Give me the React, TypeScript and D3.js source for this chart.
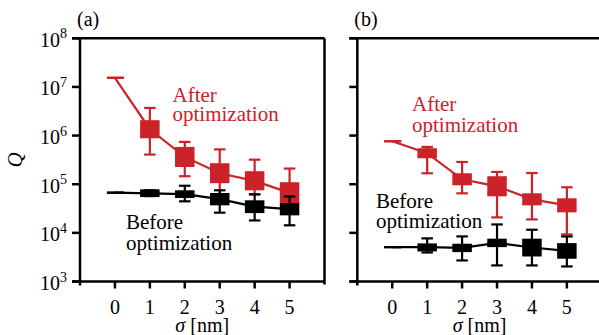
import React from "react";
import * as d3 from "d3";

// ---------- data ----------
const sigma = [0, 1, 2, 3, 4, 5];
const xTicks = [0, 1, 2, 3, 4, 5];
const yTickExps = [3, 4, 5, 6, 7, 8];

// Panel (a)
const afterA = [1.54e7, 1.35e6, 3.64e5, 1.68e5, 1.17e5, 6.65e4];
const afterAErrHi = [1.54e7, 3.7e6, 7.4e5, 5.2e5, 3.2e5, 2.1e5];
const afterAErrLo = [1.54e7, 4.07e5, 1.46e5, 5.4e4, 6.2e4, 4.05e4];
const afterABoxHi = [null, 2.07e6, 5.85e5, 2.7e5, 1.85e5, 1.1e5];
const afterABoxLo = [null, 8.8e5, 2.26e5, 1.05e5, 7.5e4, 4.05e4];

const beforeA = [6.7e4, 6.5e4, 6.25e4, 4.93e4, 3.46e4, 3.08e4];
const beforeAErrHi = [6.7e4, 7.5e4, 9.3e4, 7.5e4, 6.2e4, 5.6e4];
const beforeAErrLo = [6.7e4, 5.7e4, 4.45e4, 2.6e4, 1.8e4, 1.43e4];
const beforeABoxHi = [null, 7.85e4, 7.5e4, 6.6e4, 4.67e4, 4.1e4];
const beforeABoxLo = [null, 5.45e4, 5.2e4, 3.68e4, 2.55e4, 2.29e4];

// Panel (b)
const afterB = [7.65e5, 4.34e5, 1.26e5, 9.06e4, 4.89e4, 3.68e4];
const afterBErrHi = [7.65e5, 5.85e5, 2.87e5, 1.79e5, 1.7e5, 8.65e4];
const afterBErrLo = [7.65e5, 1.68e5, 6.5e4, 2.08e4, 1.89e4, 9.3e3];
const afterBBoxHi = [null, 5.5e5, 1.68e5, 1.46e5, 6.5e4, 5.13e4];
const afterBBoxLo = [null, 3.42e5, 9.5e4, 5.64e4, 3.68e4, 2.64e4];

const beforeB = [5.09e3, 5.09e3, 4.9e3, 6.2e3, 5.0e3, 4.25e3];
const beforeBErrHi = [5.09e3, 7.7e3, 8.45e3, 1.49e4, 1.16e4, 8.45e3];
const beforeBErrLo = [5.09e3, 3.95e3, 2.71e3, 2.14e3, 2.14e3, 2.04e3];
const beforeBBoxHi = [null, 6.07e3, 5.98e3, 7.59e3, 7.59e3, 6.15e3];
const beforeBBoxLo = [null, 4.15e3, 4.02e3, 5.09e3, 3.27e3, 2.94e3];

const annotAfter = ["After", "optimization"];
const annotBefore = ["Before", "optimization"];

// ---------- styles ----------
const RED = "#cc2229";
const BLACK = "#000";
const TXT = { fontFamily: "Liberation Serif" };
const W = 599;
const H = 335;
const yTop = 38.3;
const yBot = 281.5;

const y = d3.scaleLog().domain([1e3, 1e8]).range([yBot, yTop]);

type Series = {
  v: number[];
  hi: number[];
  lo: number[];
  bHi: (number | null)[];
  bLo: (number | null)[];
  color: string;
};

function SeriesMarks({ s, x }: { s: Series; x: d3.ScaleLinear<number, number> }) {
  const line = d3
    .line<number>()
    .x((_, i) => x(sigma[i]))
    .y((d) => y(d));
  const boxW = 19.5;
  return (
    <g>
      <path d={line(s.v) || ""} fill="none" stroke={s.color} strokeWidth={2.2} />
      {sigma.map((sg, i) => {
        const cx = x(sg);
        const capW = sg === 0 ? 17 : 11.5;
        const capOff = sg === 0 ? 0.5 : 0;
        return (
          <g key={i}>
            <line x1={cx} x2={cx} y1={y(s.hi[i])} y2={y(s.lo[i])} stroke={s.color} strokeWidth={2.2} />
            <line x1={cx - capW / 2 + capOff} x2={cx + capW / 2 + capOff} y1={y(s.hi[i])} y2={y(s.hi[i])} stroke={s.color} strokeWidth={2.2} />
            <line x1={cx - capW / 2 + capOff} x2={cx + capW / 2 + capOff} y1={y(s.lo[i])} y2={y(s.lo[i])} stroke={s.color} strokeWidth={2.2} />
            {s.bHi[i] != null && s.bLo[i] != null && (
              <rect
                x={cx - boxW / 2}
                width={boxW}
                y={y(s.bHi[i] as number)}
                height={y(s.bLo[i] as number) - y(s.bHi[i] as number)}
                fill={s.color}
              />
            )}
          </g>
        );
      })}
    </g>
  );
}

function Panel({
  x0,
  x1,
  label,
  showYLabels,
  after,
  before,
  afterPos,
  beforePos,
}: {
  x0: number;
  x1: number;
  label: string;
  showYLabels: boolean;
  after: Series;
  before: Series;
  afterPos: [number, number, number];
  beforePos: [number, number, number];
}) {
  const x = d3.scaleLinear().domain([-1, 6]).range([x0, x1]);
  const sw = 2.5;
  return (
    <g>
      {/* frame */}
      <line x1={x0} x2={x0} y1={yTop} y2={yBot + 4} stroke="#000" strokeWidth={sw} />
      <line x1={x1} x2={x1} y1={yTop} y2={yBot + 3} stroke="#000" strokeWidth={sw} />
      <line x1={x0 - 8} x2={x1} y1={yBot} y2={yBot} stroke="#000" strokeWidth={sw} />
      <line x1={x0 - 8} x2={x1} y1={yTop} y2={yTop} stroke="#000" strokeWidth={sw} />
      {yTickExps.map((e) => (
        <line key={e} x1={x0 - 8} x2={x0} y1={y(Math.pow(10, e))} y2={y(Math.pow(10, e))} stroke="#000" strokeWidth={sw} />
      ))}
      {showYLabels &&
        yTickExps.map((e) => (
          <text key={e} x={x0 - 13} y={y(Math.pow(10, e)) + 8.4} fontSize={20} textAnchor="end" style={TXT}>
            10
            <tspan dy={-8.4} fontSize={14}>
              {e}
            </tspan>
          </text>
        ))}
      {xTicks.map((t) => (
        <g key={t}>
          <line x1={x(t)} x2={x(t)} y1={yBot} y2={yBot + 7} stroke="#000" strokeWidth={sw} />
          <text x={x(t)} y={313.5} fontSize={20} textAnchor="middle" style={TXT}>
            {t}
          </text>
        </g>
      ))}
      <text x={(x(0) + x(5)) / 2} y={332} fontSize={20} textAnchor="middle" style={TXT}>
        <tspan fontStyle="italic">σ</tspan> [nm]
      </text>
      <text x={x0 - 3} y={26.4} fontSize={20} style={TXT}>
        {label}
      </text>

      <SeriesMarks s={after} x={x} />
      <SeriesMarks s={before} x={x} />

      <text fill={RED} fontSize={21} style={TXT}>
        <tspan x={afterPos[0]} y={afterPos[1]}>{annotAfter[0]}</tspan>
        <tspan x={afterPos[0]} y={afterPos[2]}>{annotAfter[1]}</tspan>
      </text>
      <text fill={BLACK} fontSize={21} style={TXT}>
        <tspan x={beforePos[0]} y={beforePos[1]}>{annotBefore[0]}</tspan>
        <tspan x={beforePos[0]} y={beforePos[2]}>{annotBefore[1]}</tspan>
      </text>
    </g>
  );
}

export default function App() {
  const aAfter: Series = { v: afterA, hi: afterAErrHi, lo: afterAErrLo, bHi: afterABoxHi, bLo: afterABoxLo, color: RED };
  const aBefore: Series = { v: beforeA, hi: beforeAErrHi, lo: beforeAErrLo, bHi: beforeABoxHi, bLo: beforeABoxLo, color: BLACK };
  const bAfter: Series = { v: afterB, hi: afterBErrHi, lo: afterBErrLo, bHi: afterBBoxHi, bLo: afterBBoxLo, color: RED };
  const bBefore: Series = { v: beforeB, hi: beforeBErrHi, lo: beforeBErrLo, bHi: beforeBBoxHi, bLo: beforeBBoxLo, color: BLACK };
  return (
    <svg width={W} height={H} style={{ position: "absolute", left: 0, top: 0, background: "#fff" }}>
      <rect width={W} height={H} fill="#fff" />
      <text
        transform={`translate(22,${(yTop + yBot) / 2}) rotate(-90)`}
        style={TXT}
        fontStyle="italic"
        fontSize={21}
        textAnchor="middle"
      >
        Q
      </text>
      <Panel
        x0={80}
        x1={324.5}
        label="(a)"
        showYLabels={true}
        after={aAfter}
        before={aBefore}
        afterPos={[172.5, 101.7, 120.5]}
        beforePos={[126, 228.8, 249.5]}
      />
      <Panel
        x0={357.3}
        x1={601.8}
        label="(b)"
        showYLabels={false}
        after={bAfter}
        before={bBefore}
        afterPos={[412, 111, 132]}
        beforePos={[376, 208.3, 228.3]}
      />
    </svg>
  );
}
